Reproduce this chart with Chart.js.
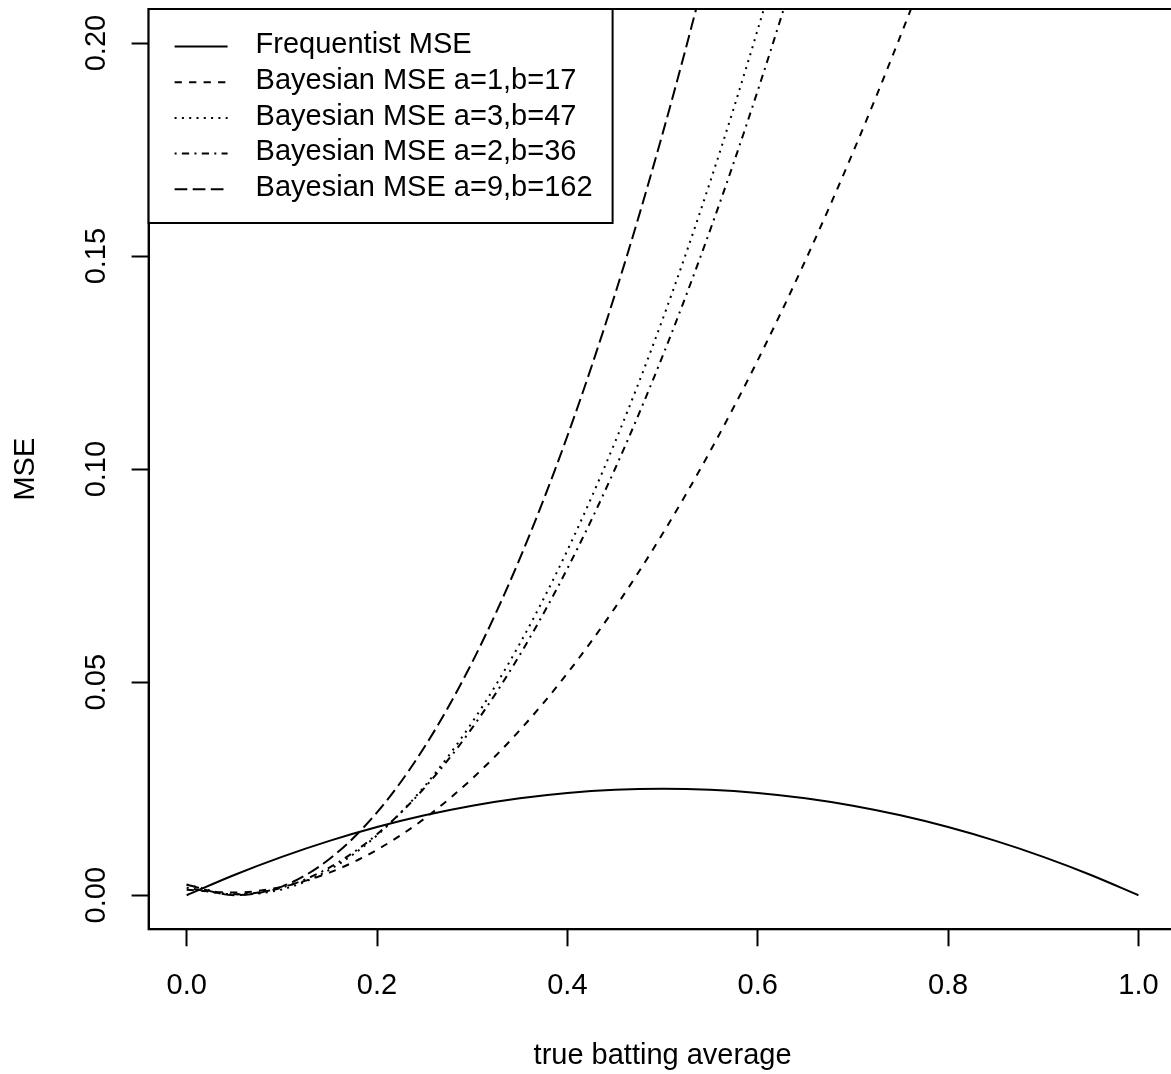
<!DOCTYPE html>
<html>
<head>
<meta charset="utf-8">
<script src="https://cdn.jsdelivr.net/npm/chart.js@4.4.1/dist/chart.umd.min.js"></script>
<style>
  html, body { margin: 0; padding: 0; background: #fff; overflow: hidden; }
  canvas { display: block; }
</style>
</head>
<body>
<canvas id="mseChart" width="1180" height="1074"></canvas>
<script>
// values at steps of 0.05
var battingAvg = [0, 0.05, 0.1, 0.15, 0.2, 0.25, 0.3, 0.35, 0.4, 0.45, 0.5,
  0.55, 0.6, 0.65, 0.7, 0.75, 0.8, 0.85, 0.9, 0.95, 1];
var freqMSE = [0, 0.00475, 0.009, 0.01275, 0.016, 0.01875, 0.021, 0.02275, 0.024, 0.02475, 0.025,
  0.02475, 0.024, 0.02275, 0.021, 0.01875, 0.016, 0.01275, 0.009, 0.00475, 0];
var bayesA1B17 = [0.001276, 0.000619, 0.001964, 0.005313, 0.010663, 0.018017, 0.027372, 0.038731, 0.052092, 0.067455, 0.084821,
  0.10419, 0.125561, 0.148935, 0.174311, 0.20169, 0.231071, 0.262455, 0.295842, 0.331231, 0.368622];
var bayesA3B47 = [0.0025, 0.000201, 0.001361, 0.005979, 0.014056, 0.02559, 0.040583, 0.059035, 0.080944, 0.106313, 0.135139,
  0.167424, 0.203167, 0.242368, 0.285028, 0.331146, 0.380722, 0.433757, 0.49025, 0.550201, 0.613611];
var bayesA2B36 = [0.001736, 0.000211, 0.001797, 0.006495, 0.014306, 0.025228, 0.039262, 0.056408, 0.076667, 0.100037, 0.126519,
  0.156113, 0.188819, 0.224638, 0.263568, 0.30561, 0.350764, 0.39903, 0.450408, 0.504898, 0.5625];
var bayesA9B162 = [0.002472, 0.000021, 0.00203, 0.008501, 0.019433, 0.034826, 0.054681, 0.078996, 0.107773, 0.141011, 0.178711,
  0.220872, 0.267494, 0.318577, 0.374121, 0.434127, 0.498594, 0.567522, 0.640912, 0.718762, 0.801074];

var seriesNames = ["Frequentist MSE", "Bayesian MSE a=1,b=17", "Bayesian MSE a=3,b=47",
  "Bayesian MSE a=2,b=36", "Bayesian MSE a=9,b=162"];
var xTicks = [0, 0.2, 0.4, 0.6, 0.8, 1.0];
var yTicks = [0, 0.05, 0.10, 0.15, 0.20];

// R style line types (lty 1..5) at lwd 1
var dashes = [[], [7.25, 7.25], [2, 5.3], [2, 5.3, 7.25, 5.3], [12.7, 5.4]];
var lw = 2;

Chart.defaults.font.family = "'Liberation Sans', Arial, Helvetica, sans-serif";
Chart.defaults.font.size = 29;
Chart.defaults.color = "#000";

function pts(ys) {
  return battingAvg.map(function (x, i) { return { x: x, y: ys[i] }; });
}

var allSeries = [freqMSE, bayesA1B17, bayesA3B47, bayesA2B36, bayesA9B162];
var datasets = allSeries.map(function (ys, i) {
  return {
    label: seriesNames[i],
    data: pts(ys),
    borderColor: "#000",
    borderWidth: lw,
    borderDash: dashes[i],
    pointRadius: 0,
    fill: false,
    cubicInterpolationMode: "monotone"
  };
});

// box round the plot region and the legend, drawn the way R does it
var rBox = {
  id: "rBox",
  afterDraw: function (chart) {
    var ctx = chart.ctx, a = chart.chartArea;
    ctx.save();
    ctx.strokeStyle = "#000";
    ctx.lineWidth = lw;
    ctx.setLineDash([]);
    ctx.strokeRect(a.left, a.top, a.right - a.left, a.bottom - a.top);

    // legend
    var lx = a.left, ly = a.top, lwid = 464, lht = 214;
    ctx.fillStyle = "#fff";
    ctx.fillRect(lx, ly, lwid, lht);
    ctx.strokeRect(lx, ly, lwid, lht);
    ctx.font = "29px 'Liberation Sans', Arial, sans-serif";
    ctx.fillStyle = "#000";
    ctx.textBaseline = "alphabetic";
    ctx.textAlign = "left";
    for (var i = 0; i < seriesNames.length; i++) {
      var yLine = ly + 37.5 + i * 35.7;
      ctx.setLineDash(dashes[i]);
      ctx.beginPath();
      ctx.moveTo(lx + 26, yLine);
      ctx.lineTo(lx + 79, yLine);
      ctx.stroke();
      ctx.fillText(seriesNames[i], lx + 107, yLine + 6.7);
    }
    ctx.restore();
  }
};

var ctx = document.getElementById("mseChart");
var mseChart = new Chart(ctx, {
  type: "line",
  data: { datasets: datasets },
  options: {
    responsive: false,
    animation: false,
    layout: { padding: { left: 0, top: 9, right: 3.5, bottom: 0 } },
    plugins: {
      legend: { display: false },
      tooltip: { enabled: false }
    },
    scales: {
      x: {
        type: "linear",
        min: -0.04,
        max: 1.04,
        afterBuildTicks: function (s) { s.ticks = xTicks.map(function (v) { return { value: v }; }); },
        afterFit: function (s) { s.height = 144.7; s.paddingLeft = 0; s.paddingRight = 0; },
        border: { display: true, color: "#000", width: lw },
        grid: { drawOnChartArea: false, drawTicks: true, tickLength: 17, tickColor: "#000", tickWidth: lw },
        ticks: {
          autoSkip: false, maxRotation: 0, padding: 22,
          callback: function (v) { return v.toFixed(1); }
        },
        title: { display: true, text: "true batting average", padding: { top: 0, bottom: 1 } }
      },
      y: {
        type: "linear",
        min: -0.008,
        max: 0.208,
        afterBuildTicks: function (s) { s.ticks = yTicks.map(function (v) { return { value: v }; }); },
        afterFit: function (s) { s.width = 148.6; s.paddingTop = 0; s.paddingBottom = 0; },
        border: { display: true, color: "#000", width: lw },
        grid: { drawOnChartArea: false, drawTicks: true, tickLength: 17, tickColor: "#000", tickWidth: lw },
        ticks: {
          autoSkip: false, minRotation: 90, maxRotation: 90, crossAlign: "center", padding: 6.8,
          callback: function (v) { return v.toFixed(2); }
        },
        title: { display: true, text: "MSE", padding: { top: 8.6, bottom: 0 } }
      }
    }
  },
  plugins: [rBox]
});
</script>
</body>
</html>
